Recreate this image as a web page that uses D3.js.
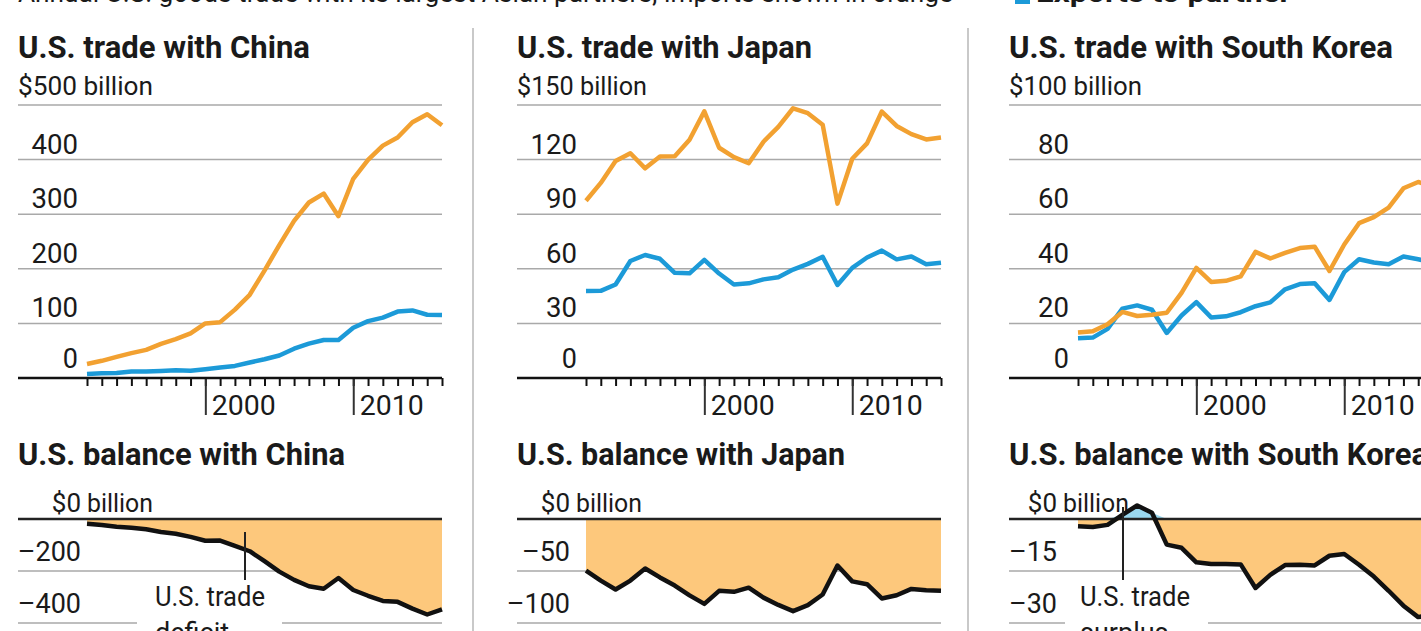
<!DOCTYPE html>
<html>
<head>
<meta charset="utf-8">
<script src="https://cdn.jsdelivr.net/npm/d3@7"></script>
<style>
  html, body { margin: 0; padding: 0; background: #fff; overflow: hidden; }
  text { font-family: Roboto, "Noto Sans", sans-serif; fill: #1a1a1a; }
</style>
</head>
<body>
<svg id="chart" width="1421" height="631"></svg>
<script>
// Annual U.S. goods trade, billions of dollars
const years = [1992, 1993, 1994, 1995, 1996, 1997, 1998, 1999, 2000, 2001, 2002, 2003,
               2004, 2005, 2006, 2007, 2008, 2009, 2010, 2011, 2012, 2013, 2014, 2015, 2016];

const chinaImports = [25.7, 31.5, 38.8, 45.5, 51.5, 62.6, 71.2, 81.8, 100.0, 102.3, 125.2, 152.4,
                      196.7, 243.5, 287.8, 321.4, 337.8, 296.4, 364.9, 399.4, 425.6, 440.4, 468.5, 483.2, 462.8];
const chinaExports = [7.4, 8.8, 9.3, 11.8, 12.0, 12.9, 14.2, 13.1, 16.2, 19.2, 22.1, 28.4,
                      34.4, 41.2, 53.7, 62.9, 69.7, 69.5, 91.9, 104.1, 110.5, 121.7, 123.7, 115.9, 115.6];
const chinaBalance = [-18.3, -22.8, -29.5, -33.8, -39.5, -49.7, -57.0, -68.7, -83.8, -83.1, -103.1, -124.0,
                      -162.3, -202.3, -234.1, -258.5, -268.1, -226.9, -273.0, -295.3, -315.1, -318.7, -344.8, -367.3, -347.2];

const japanImports = [97.4, 107.2, 119.2, 123.5, 115.2, 121.7, 121.8, 130.9, 146.5, 126.5, 121.4, 118.0,
                      129.8, 138.0, 148.2, 145.5, 139.2, 95.8, 120.5, 128.9, 146.4, 138.5, 134.0, 131.1, 132.2];
const japanExports = [47.8, 47.9, 51.4, 64.3, 67.6, 65.5, 57.8, 57.5, 64.9, 57.4, 51.4, 52.0,
                      54.2, 55.4, 59.6, 62.7, 66.6, 51.1, 60.5, 66.2, 70.0, 65.2, 66.8, 62.5, 63.3];
const japanBalance = [-49.6, -59.3, -67.8, -59.2, -47.6, -56.2, -64.0, -73.4, -81.6, -69.1, -70.0, -66.0,
                      -75.6, -82.6, -88.6, -82.8, -72.6, -44.7, -60.0, -62.7, -76.4, -73.3, -67.2, -68.6, -68.9];

const koreaImports = [16.7, 17.1, 19.7, 24.2, 22.7, 23.2, 23.9, 31.2, 40.3, 35.2, 35.6, 37.2,
                      46.2, 43.8, 45.8, 47.6, 48.1, 39.2, 48.9, 56.7, 58.9, 62.4, 69.5, 71.8, 69.9];
const koreaExports = [14.6, 14.8, 18.0, 25.4, 26.6, 25.0, 16.5, 22.9, 27.8, 22.2, 22.6, 24.1,
                      26.3, 27.7, 32.5, 34.4, 34.7, 28.6, 38.8, 43.5, 42.3, 41.7, 44.5, 43.5, 42.3];
const koreaBalance = [-2.1, -2.3, -1.7, 1.2, 3.9, 1.8, -7.4, -8.3, -12.5, -13.0, -13.0, -13.1,
                      -19.9, -16.1, -13.3, -13.2, -13.4, -10.6, -10.1, -13.2, -16.6, -20.7, -25.0, -28.3, -27.6];

// Axis ticks
const chinaTradeTicks = [0, 100, 200, 300, 400, 500];
const japanTradeTicks = [0, 30, 60, 90, 120, 150];
const koreaTradeTicks = [0, 20, 40, 60, 80, 100];
const chinaBalanceTicks = [0, -200, -400];
const japanBalanceTicks = [0, -50, -100];
const koreaBalanceTicks = [0, -15, -30];
const labeledYears = [2000, 2010];

const countries = ["China", "Japan", "South Korea"];

// Colours
const IMPORT_COLOR = "#f2a131";
const EXPORT_COLOR = "#1c9ad8";
const DEFICIT_FILL = "#fdc87c";
const SURPLUS_FILL = "#9ad8ef";
const GRID_COLOR = "#a9a9a9";

const svg = d3.select("#chart");

function fitText(sel, w) {
  return sel.attr("textLength", w).attr("lengthAdjust", "spacingAndGlyphs");
}

// Layout of each column
const columns = [
  { name: countries[0], ox: 0,   imports: chinaImports, exports: chinaExports, balance: chinaBalance,
    tradeTicks: chinaTradeTicks, balanceTicks: chinaBalanceTicks,
    titleW: 292, unitW: 135, balTitleW: 327, balLabelX: 81,
    note: { x: 245, top: 532, label: ["U.S. trade", "deficit"], labelX: 155, gap: [137, 282] } },
  { name: countries[1], ox: 499, imports: japanImports, exports: japanExports, balance: japanBalance,
    tradeTicks: japanTradeTicks, balanceTicks: japanBalanceTicks,
    titleW: 295, unitW: 130, balTitleW: 328, balLabelX: 71, note: null },
  { name: countries[2], ox: 991, imports: koreaImports, exports: koreaExports, balance: koreaBalance,
    tradeTicks: koreaTradeTicks, balanceTicks: koreaBalanceTicks,
    titleW: 384, unitW: 133, balTitleW: 419, balLabelX: 66,
    note: { x: 132, top: 507, label: ["U.S. trade", "surplus"], labelX: 89, gap: [74, 217] } }
];

const GL = 18, GR = 442;          // gridline extent inside a column
const XL = 87, XR = 442;          // year range inside a column
const TOP_Y0 = 378, TOP_Y1 = 105; // trade panel vertical range
const BAL_Y0 = 519, BAL_Y1 = 623; // balance panel vertical range

// Key along the top edge
const key = svg.append("g");
fitText(key.append("text").attr("x", 18).attr("y", 2).attr("font-size", 26)
  .attr("fill", "#333").text("Annual U.S. goods trade with its largest Asian partners; imports shown in orange"), 935);
key.append("rect").attr("x", 1015).attr("y", -14).attr("width", 15).attr("height", 18).attr("fill", EXPORT_COLOR);
fitText(key.append("text").attr("x", 1036).attr("y", 2).attr("font-size", 26)
  .attr("font-weight", 700).attr("fill", "#333").text("Exports to partner"), 255);

// Column separators
[473, 968].forEach(sx => {
  svg.append("line").attr("x1", sx).attr("x2", sx).attr("y1", 28).attr("y2", 631)
    .attr("stroke", "#c9c9c9").attr("stroke-width", 2);
});

columns.forEach(col => {
  const g = svg.append("g").attr("transform", `translate(${col.ox},0)`);
  const x = d3.scaleLinear().domain([years[0], years[years.length - 1]]).range([XL, XR]);

  // ---------- Trade panel ----------
  const tMax = d3.max(col.tradeTicks);
  const y = d3.scaleLinear().domain([0, tMax]).range([TOP_Y0, TOP_Y1]);

  fitText(g.append("text").attr("x", 18).attr("y", 58).attr("font-size", 31)
    .attr("font-weight", 700).attr("fill", "#111").text(`U.S. trade with ${col.name}`), col.titleW);
  fitText(g.append("text").attr("x", 18).attr("y", 95).attr("font-size", 25)
    .text(`$${tMax} billion`), col.unitW);

  col.tradeTicks.filter(t => t > 0).forEach(t => {
    g.append("line").attr("x1", GL).attr("x2", GR).attr("y1", y(t)).attr("y2", y(t))
      .attr("stroke", GRID_COLOR).attr("stroke-width", 1.5);
  });
  col.tradeTicks.filter(t => t < tMax).forEach(t => {
    const lbl = g.append("text").attr("x", 78).attr("y", y(t) - (t === 0 ? 10 : 6))
      .attr("text-anchor", "end").attr("font-size", 27).text(t);
    const n = String(t).length;
    if (n > 1) fitText(lbl, n * 15.5);
  });

  // Year ticks
  const minor = d3.axisBottom(x).tickValues(years).tickSize(8).tickFormat("");
  const gMinor = g.append("g").attr("transform", `translate(0,${TOP_Y0})`).call(minor);
  gMinor.select(".domain").remove();
  gMinor.selectAll(".tick line").attr("stroke", "#111").attr("stroke-width", 2);

  const major = d3.axisBottom(x).tickValues(labeledYears).tickSize(37).tickFormat(d3.format("d"));
  const gMajor = g.append("g").attr("transform", `translate(0,${TOP_Y0})`).call(major);
  gMajor.select(".domain").remove();
  gMajor.selectAll(".tick line").attr("stroke", "#333").attr("stroke-width", 2);
  gMajor.selectAll(".tick text")
    .attr("text-anchor", "start").attr("x", 6).attr("y", 37).attr("dy", 0)
    .attr("font-size", 27).attr("font-family", "Roboto, sans-serif").attr("fill", "#1a1a1a")
    .attr("textLength", 64).attr("lengthAdjust", "spacingAndGlyphs");

  g.append("line").attr("x1", GL).attr("x2", GR).attr("y1", TOP_Y0).attr("y2", TOP_Y0)
    .attr("stroke", "#111").attr("stroke-width", 2.5);

  const line = d3.line().x((d, i) => x(years[i])).y(d => y(d));
  g.append("path").datum(col.exports).attr("d", line).attr("fill", "none")
    .attr("stroke", EXPORT_COLOR).attr("stroke-width", 4.5).attr("stroke-linejoin", "round");
  g.append("path").datum(col.imports).attr("d", line).attr("fill", "none")
    .attr("stroke", IMPORT_COLOR).attr("stroke-width", 4.5).attr("stroke-linejoin", "round");

  // ---------- Balance panel ----------
  const bMin = d3.min(col.balanceTicks);
  const yb = d3.scaleLinear().domain([0, bMin]).range([BAL_Y0, BAL_Y1]);

  fitText(g.append("text").attr("x", 18).attr("y", 465).attr("font-size", 31)
    .attr("font-weight", 700).attr("fill", "#111").text(`U.S. balance with ${col.name}`), col.balTitleW);

  col.balanceTicks.filter(t => t < 0).forEach(t => {
    const yy = yb(t);
    if (col.note && t === bMin) {
      g.append("line").attr("x1", GL).attr("x2", col.note.gap[0]).attr("y1", yy).attr("y2", yy)
        .attr("stroke", GRID_COLOR).attr("stroke-width", 1.5);
      g.append("line").attr("x1", col.note.gap[1]).attr("x2", GR).attr("y1", yy).attr("y2", yy)
        .attr("stroke", GRID_COLOR).attr("stroke-width", 1.5);
    } else {
      g.append("line").attr("x1", GL).attr("x2", GR).attr("y1", yy).attr("y2", yy)
        .attr("stroke", GRID_COLOR).attr("stroke-width", 1.5);
    }
    g.append("text").attr("x", col.balLabelX).attr("y", yy - 10)
      .attr("text-anchor", "end").attr("font-size", 27).text("\u2013" + Math.abs(t));
  });
  g.append("text").attr("x", col.balLabelX).attr("y", BAL_Y0 - 7)
    .attr("text-anchor", "end").attr("font-size", 26).text("$0");
  g.append("text").attr("x", col.balLabelX + 6).attr("y", BAL_Y0 - 7)
    .attr("font-size", 26).attr("textLength", 66).attr("lengthAdjust", "spacingAndGlyphs").text("billion");

  const areaNeg = d3.area().x((d, i) => x(years[i])).y0(yb(0)).y1(d => yb(Math.min(d, 0)));
  const areaPos = d3.area().x((d, i) => x(years[i])).y0(yb(0)).y1(d => yb(Math.max(d, 0)));
  g.append("path").datum(col.balance).attr("d", areaNeg).attr("fill", DEFICIT_FILL);
  g.append("path").datum(col.balance).attr("d", areaPos).attr("fill", SURPLUS_FILL);

  g.append("line").attr("x1", GL).attr("x2", GR).attr("y1", yb(0)).attr("y2", yb(0))
    .attr("stroke", "#222").attr("stroke-width", 2.5);

  const bLine = d3.line().x((d, i) => x(years[i])).y(d => yb(d));
  g.append("path").datum(col.balance).attr("d", bLine).attr("fill", "none")
    .attr("stroke", "#111").attr("stroke-width", 4.5).attr("stroke-linejoin", "round");

  if (col.note) {
    g.append("line").attr("x1", col.note.x).attr("x2", col.note.x)
      .attr("y1", col.note.top).attr("y2", 580).attr("stroke", "#222").attr("stroke-width", 2);
    fitText(g.append("text").attr("x", col.note.labelX).attr("y", 606).attr("font-size", 27)
      .text(col.note.label[0]), 110);
    g.append("text").attr("x", col.note.labelX).attr("y", 642).attr("font-size", 27)
      .text(col.note.label[1]);
  }
});
</script>
</body>
</html>
